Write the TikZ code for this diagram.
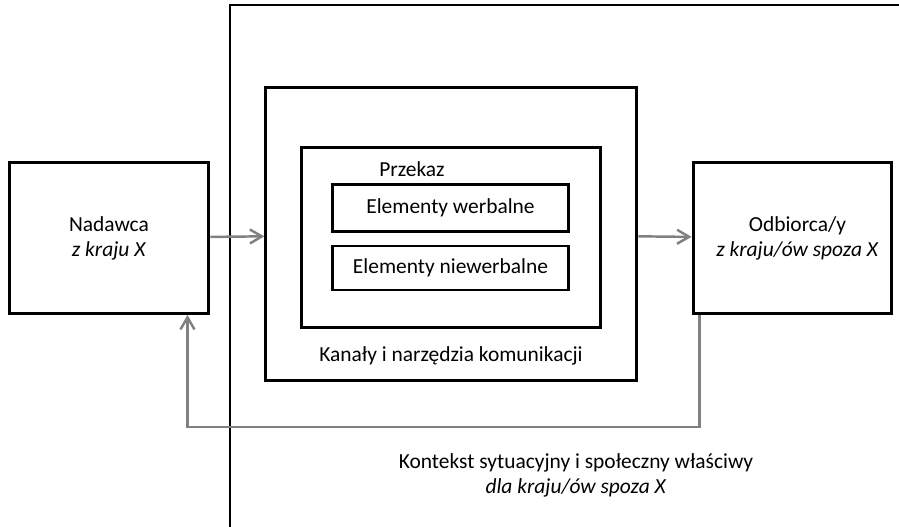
\documentclass[tikz,border=0pt]{standalone}
\usepackage{fontspec}
\setmainfont{Carlito}
\usetikzlibrary{positioning, arrows.meta, calc}
\definecolor{flowgray}{RGB}{128,128,128}

\begin{document}
\begin{tikzpicture}[x=0.02cm, y=-0.02cm, >={Straight Barb[length=2.4mm,width=2.8mm]},
  box/.style={draw, line width=1.7pt, inner sep=0pt, align=center},
  flow/.style={->, draw=flowgray, line width=1.4pt},
  every node/.style={font=\fontsize{12.2}{14.2}\selectfont}]
  \useasboundingbox (0,0) rectangle (899,527);
  % kontekst
  \draw[line width=1.7pt] (230,527) -- (230,5) -- (899,5);
  \node[box, minimum width=4cm, minimum height=3.02cm] (nad) at (109,238) {Nadawca\\\textit{z kraju X}};
  \node[box, minimum width=3.98cm, minimum height=3.02cm] (odb) at (792.5,238) {\hspace*{0.2cm}Odbiorca/y\\\hspace*{0.2cm}\textit{z kraju/ów spoza X}};
  \node[box, minimum width=7.42cm, minimum height=5.86cm] (kan) at (451.3,234.3) {};
  \node[box, minimum width=5.98cm, minimum height=3.62cm] (prz) at (451.2,237.5) {};
  \node[box, minimum width=4.74cm, minimum height=0.93cm] (werb) at (450.5,208) {Elementy werbalne};
  \node[box, minimum width=4.74cm, minimum height=0.88cm] (niew) at (450.5,268) {Elementy niewerbalne};
  \node (przlab) at (412,169) {Przekaz};
  \node (kanlab) at (451,356) {Kanały i narzędzia komunikacji};
  \node[align=center] (ktx) at (576,475) {Kontekst sytuacyjny i społeczny właściwy\\\textit{dla kraju/ów spoza X}};
  \draw[flow] (nad) -- (kan);
  \draw[flow] (kan) -- (odb);
  \draw[flow] ([xshift=0.16cm]odb.south west) -- ++(0,112) -| ([xshift=-0.46cm]nad.south east);
\end{tikzpicture}
\end{document}
